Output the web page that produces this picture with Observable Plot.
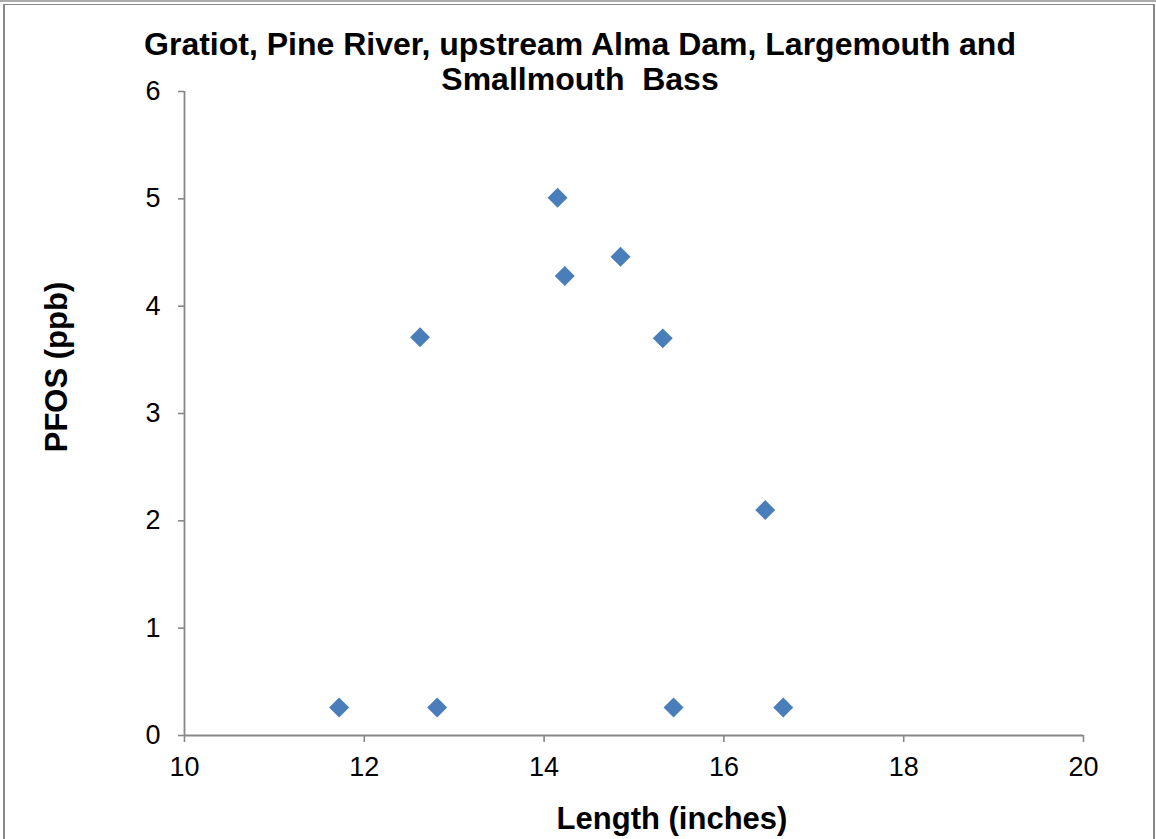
<!DOCTYPE html>
<html>
<head>
<meta charset="utf-8">
<script src="https://cdn.jsdelivr.net/npm/d3@7"></script>
<script src="https://cdn.jsdelivr.net/npm/@observablehq/plot@0.6"></script>
<style>
  html, body { margin: 0; padding: 0; background: #fff; }
  #wrap { position: relative; width: 1156px; height: 839px; overflow: hidden; font-family: "Liberation Sans", Arial, sans-serif; }
  #strip { position: absolute; left: 0; top: 0; width: 1156px; height: 2px; background: #ababab; }
  #box { position: absolute; left: 3px; top: 4px; width: 1148px; height: 900px; border-left: 2px solid #888; border-top: 1px solid #888; border-right: 2px solid #888; }
  #chart { position: absolute; left: 0; top: 0; }
  .t { position: absolute; font-weight: bold; color: #000; white-space: pre; }
  .title { left: 580px; font-size: 32px; line-height: 35px; text-align: center; transform: translateX(-50%); }
  #title1 { top: 27px; }
  #title2 { top: 62px; }
  #xlabel { left: 672px; top: 818px; font-size: 31px; line-height: 31px; transform: translate(-50%, -50%); }
  #ylabel { left: 56px; top: 367px; font-size: 31px; line-height: 31px; transform: translate(-50%, -50%) rotate(-90deg); }
</style>
</head>
<body>
<div id="wrap">
  <div id="strip"></div>
  <div id="box"></div>
  <div id="chart"></div>
  <div class="t title" id="title1"></div>
  <div class="t title" id="title2"></div>
  <div class="t" id="xlabel"></div>
  <div class="t" id="ylabel"></div>
</div>
<script>
// ---- data ----
const titleLines = ["Gratiot, Pine River, upstream Alma Dam, Largemouth and", "Smallmouth  Bass"];
const xTitle = "Length (inches)";
const yTitle = "PFOS (ppb)";
const lengthInches = [11.72, 12.62, 12.81, 14.15, 14.23, 14.85, 15.32, 15.44, 16.46, 16.66];
const pfosPpb      = [0.26, 3.71, 0.26, 5.01, 4.28, 4.46, 3.70, 0.26, 2.10, 0.26];
const xTicks = [10, 12, 14, 16, 18, 20];
const yTicks = [0, 1, 2, 3, 4, 5, 6];
const xDomain = [10, 20];
const yDomain = [0, 6];

const points = lengthInches.map((x, i) => ({x, y: pfosPpb[i]}));

document.getElementById("title1").textContent = titleLines[0];
document.getElementById("title2").textContent = titleLines[1];
document.getElementById("xlabel").textContent = xTitle;
document.getElementById("ylabel").textContent = yTitle;

const axisGray = "#878787";
const chart = Plot.plot({
  width: 1156,
  height: 839,
  marginLeft: 184,
  marginRight: 73,
  marginTop: 91,
  marginBottom: 104,
  style: {fontFamily: "'Liberation Sans', Arial, sans-serif", color: "#000", background: "transparent"},
  x: {domain: xDomain},
  y: {domain: yDomain},
  marks: [
    Plot.axisX(xTicks, {tickSize: 7, tickPadding: 14, fontSize: 27, stroke: axisGray, strokeWidth: 1.6, fill: "#000", tickFormat: "d", label: null}),
    Plot.axisY(yTicks, {tickSize: 6, tickPadding: 18, fontSize: 27, stroke: axisGray, strokeWidth: 1.6, fill: "#000", tickFormat: "d", label: null}),
    Plot.ruleX([xDomain[0]], {stroke: axisGray, strokeWidth: 1.8}),
    Plot.ruleY([yDomain[0]], {stroke: axisGray, strokeWidth: 1.8}),
    Plot.dot(points, {x: "x", y: "y", symbol: "diamond2", r: 9, fill: "#4a7ebb", stroke: "none"})
  ]
});
document.getElementById("chart").appendChild(chart);
</script>
</body>
</html>
